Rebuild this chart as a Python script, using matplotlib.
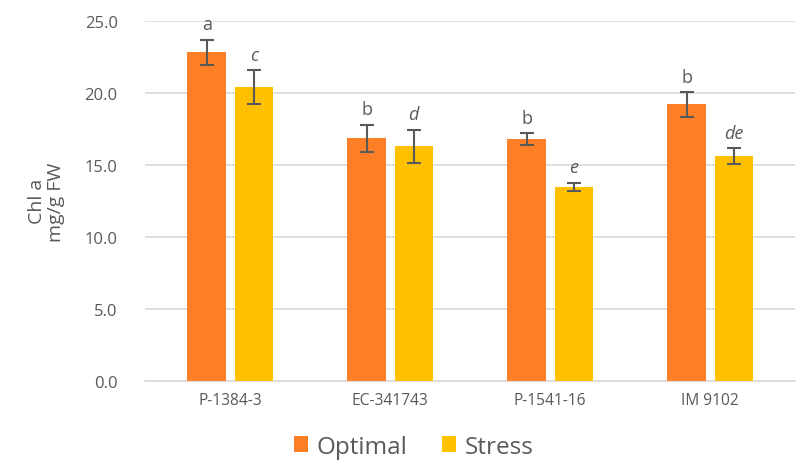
import matplotlib
matplotlib.use("Agg")
import matplotlib.pyplot as plt
import numpy as np

categories = ["P-1384-3", "EC-341743", "P-1541-16", "IM 9102"]
optimal = [22.8, 16.85, 16.8, 19.2]
optimal_err = [0.9, 0.95, 0.4, 0.85]
stress = [20.4, 16.3, 13.45, 15.6]
stress_err = [1.15, 1.15, 0.3, 0.55]
optimal_letters = ["a", "b", "b", "b"]
stress_letters = ["c", "d", "e", "de"]

ORANGE = "#FF7F27"
YELLOW = "#FFC000"
GREY = "#595959"

plt.rcParams["font.family"] = ["Open Sans", "DejaVu Sans"]

fig = plt.figure(figsize=(7.99, 4.64), dpi=100)
ax = fig.add_axes([0.182, 0.177, 0.813, 0.776])

x = np.arange(len(categories))
w = 0.24
off = 0.147
err_kw = dict(ecolor=GREY, capsize=5, elinewidth=1.5, capthick=1.5)
ax.bar(x - off, optimal, w, yerr=optimal_err, color=ORANGE, label="Optimal",
       error_kw=err_kw, zorder=3)
ax.bar(x + off, stress, w, yerr=stress_err, color=YELLOW, label="Stress",
       error_kw=err_kw, zorder=3)

for i in range(len(categories)):
    ax.text(x[i] - off, optimal[i] + optimal_err[i] + 0.45, optimal_letters[i],
            ha="center", va="bottom", fontsize=13, color=GREY)
    ax.text(x[i] + off, stress[i] + stress_err[i] + 0.45, stress_letters[i],
            ha="center", va="bottom", fontsize=13, color=GREY, style="italic")

ax.set_ylim(0, 25)
ax.set_xlim(-0.53, 3.53)
ax.set_yticks(np.arange(0, 25.1, 5))
ax.set_yticklabels([f"{v:.1f}" for v in np.arange(0, 25.1, 5)])
ax.set_xticks(x)
ax.set_xticklabels(categories)
ax.tick_params(axis="both", length=0, colors=GREY)
ax.tick_params(axis="x", pad=8, labelsize=11.2)
ax.tick_params(axis="y", pad=20, labelsize=12)
ax.grid(axis="y", color="#D9D9D9", linewidth=1.2, zorder=0)
for s in ["top", "right", "left"]:
    ax.spines[s].set_visible(False)
ax.spines["bottom"].set_color("#D9D9D9")
ax.spines["bottom"].set_linewidth(1.2)

ax.set_ylabel("Chl a\nmg/g FW", fontsize=14, color=GREY, labelpad=14,
              linespacing=1.1)

fig.legend(loc="lower center", bbox_to_anchor=(0.518, -0.038), ncol=2,
           frameon=False, fontsize=17.5, labelcolor=GREY, handlelength=0.6,
           handleheight=0.6, handletextpad=0.35, columnspacing=1.4)

fig.savefig("out.png", dpi=100)
